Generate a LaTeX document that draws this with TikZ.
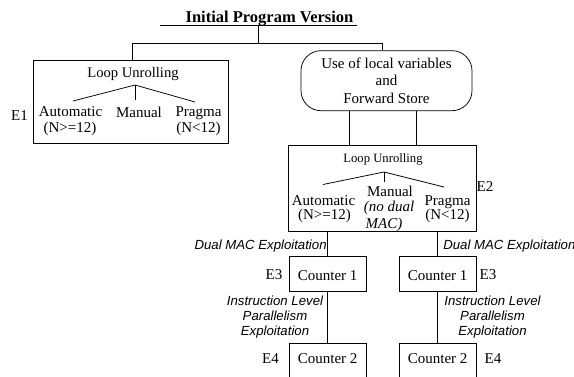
\documentclass[tikz,border=0pt]{standalone}
\usepackage{fontspec}
\setmainfont{Liberation Serif}
\setsansfont{Liberation Sans}
\begin{document}
\begin{tikzpicture}[x=1pt,y=-1pt,line width=0.75pt,
  txt/.style={inner sep=0pt,anchor=base,font=\fontsize{15}{17}\selectfont},
  smalltxt/.style={inner sep=0pt,anchor=base,font=\fontsize{12.7}{15}\selectfont},
  itxt/.style={inner sep=0pt,anchor=base,font=\itshape\fontsize{15}{17}\selectfont},
  elbl/.style={inner sep=0pt,font=\sffamily\itshape\fontsize{13.2}{15}\selectfont},
  cnt/.style={draw,inner sep=0pt,anchor=north,minimum width=76.7pt,minimum height=1pt,font=\fontsize{15}{17}\selectfont}
]
\useasboundingbox (0,0) rectangle (574,376);

% title
\node[inner sep=0pt,anchor=base,font=\bfseries\fontsize{16.5}{18}\selectfont] (title) at (269.5,22) {Initial Program Version};
\coordinate (ul1) at (160,25);
\coordinate (ul2) at (357,25);
\draw (ul1) -- (ul2);
\coordinate (jt) at (258,25);
\coordinate (jh) at (258,43);
\coordinate (h1) at (132,43);
\coordinate (h2) at (382,43);
\draw (jt) -- (jh);
\draw (h1) -- (h2);

% E1 box
\node[draw,inner sep=0pt,minimum width=195pt,minimum height=83pt] (e1) at (130.5,101.5) {};
\draw (h1) -- (h1 |- e1.north);
\node[inner sep=0pt,anchor=base,font=\fontsize{14.6}{17}\selectfont] (lu1) at (133,77) {Loop Unrolling};
\coordinate (a1) at (135,85);
\coordinate (l1) at (73,101);
\coordinate (m1) at (135,100);
\coordinate (r1) at (195,102);
\draw (l1) -- (a1) -- (r1);
\draw (a1) -- (m1);
\node[txt] (au1) at (70.5,116) {Automatic};
\node[txt] (au1b) at (70,132) {(N>=12)};
\node[txt] (ma1) at (139,117) {Manual};
\node[txt] (pr1) at (198.5,116) {Pragma};
\node[txt] (pr1b) at (198.5,132) {(N<12)};
\node[txt] (E1) at (19.5,120) {E1};

% rounded box
\node[draw,rounded corners=20pt,minimum width=171pt,minimum height=60pt,inner sep=0pt,align=center,font=\fontsize{15}{17.8}\selectfont] (fs) at (386.5,80.7) {Use of local variables\\and\\Forward Store};
\draw (h2) -- (h2 |- fs.north);

% E2 box
\node[draw,inner sep=0pt,minimum width=188pt,minimum height=86pt] (e2) at (382,188) {};
\draw ([xshift=-37.5pt]fs.south) -- ([xshift=-37.5pt]fs.south |- e2.north);
\draw ([xshift=29.5pt]fs.south) -- ([xshift=29.5pt]fs.south |- e2.north);
\node[smalltxt] (lu2) at (383,162.7) {Loop Unrolling};
\coordinate (a2) at (384,172);
\coordinate (l2) at (323,184.5);
\coordinate (m2) at (384,182);
\coordinate (r2) at (444,187);
\draw (l2) -- (a2) -- (r2);
\draw (a2) -- (m2);
\node[txt] (au2) at (323.5,205) {Automatic};
\node[txt] (au2b) at (324.5,219.5) {(N>=12)};
\node[txt] (ma2) at (390,196.7) {Manual};
\node[itxt] (ma2b) at (389,211.7) {(no dual};
\node[itxt] (ma2c) at (384,228) {MAC)};
\node[txt] (pr2) at (447.5,205) {Pragma};
\node[txt] (pr2b) at (447.5,219.5) {(N<12)};
\node[txt] (E2) at (485,191.7) {E2};

% counters 1
\node[cnt,text height=23.5pt,text depth=11.3pt] (c1l) at (327.7,256.3) {Counter 1};
\node[cnt,text height=24.2pt,text depth=11.2pt] (c1r) at (437.7,255.5) {Counter 1};
\draw (e2.south -| c1l.north) -- (c1l.north);
\draw (e2.south -| c1r.north) -- (c1r.north);
\node[elbl,anchor=base east] (dm1) at (327,249) {Dual MAC Exploitation};
\node[elbl,anchor=base west] (dm2) at (443,249) {Dual MAC Exploitation};
\node[txt] (E3l) at (274,279.7) {E3};
\node[txt] (E3r) at (488,279.7) {E3};

% counters 2
\node[cnt,text height=20.3pt,text depth=40pt] (c2l) at (327.7,342.7) {Counter 2};
\node[cnt,text height=20.3pt,text depth=40pt] (c2r) at (437.7,342.7) {Counter 2};
\draw (c1l.south) -- (c2l.north);
\draw (c1r.south) -- (c2r.north);
\node[elbl,align=center,anchor=north,font=\sffamily\itshape\fontsize{13.2}{15}\selectfont] (ilp1) at (275,295.5) {Instruction Level\\Parallelism\\Exploitation};
\node[elbl,align=center,anchor=north,font=\sffamily\itshape\fontsize{13.2}{15}\selectfont] (ilp2) at (492.5,295.5) {Instruction Level\\Parallelism\\Exploitation};
\node[txt] (E4l) at (270.5,363) {E4};
\node[txt] (E4r) at (493,363) {E4};
\end{tikzpicture}
\end{document}
